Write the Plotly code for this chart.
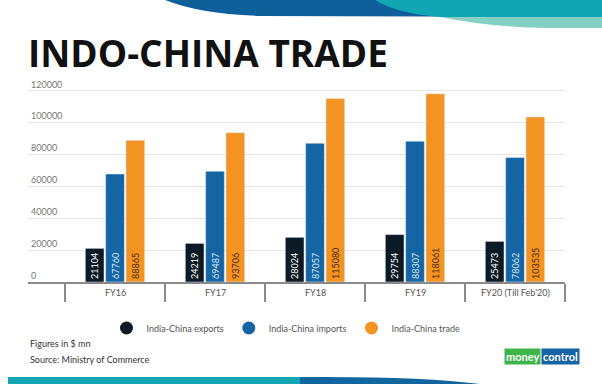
import plotly.graph_objects as go

categories = ["FY16", "FY17", "FY18", "FY19", "FY20 (Till Feb'20)"]
exports = [21104, 24219, 28024, 29754, 25473]
imports = [67760, 69487, 87057, 88307, 78062]
trade = [88865, 93706, 115080, 118061, 103535]
series_names = ["India-China exports", "India-China imports", "India-China trade"]
series_colors = ["#0c1a26", "#1565a5", "#f39322"]
text_colors = ["#ffffff", "#d6e8f5", "#4a2a05"]
y_ticks = [0, 20000, 40000, 60000, 80000, 100000, 120000]

W, H = 602, 384
L, R, T, B = 28, 37, 78, 102
pw, ph = W - L - R, H - T - B
Y_MAX = 128000


def px(x, y):
    return (x - L) / pw, (H - B - y) / ph


def path(pts):
    s = ""
    for cmd, coords in pts:
        s += cmd
        for i in range(0, len(coords), 2):
            xx, yy = px(coords[i], coords[i + 1])
            s += f"{xx:.4f},{yy:.4f} "
    return s + "Z"


fig = go.Figure()
for name, vals, col, tcol in zip(series_names, [exports, imports, trade], series_colors, text_colors):
    fig.add_trace(go.Bar(
        x=categories, y=vals, name=name, marker_color=col, showlegend=False,
        texttemplate="%{y:d}", textposition="inside", insidetextanchor="start",
        textangle=-90, textfont=dict(size=9, color=tcol, family="Lato"),
        cliponaxis=False,
    ))
    fig.add_trace(go.Scatter(
        x=[None], y=[None], mode="markers", name=name,
        marker=dict(color=col, size=13, symbol="circle"), showlegend=True,
    ))

x0, y0 = px(8, 377)
x1, y1 = px(330, 384)
shapes = [
    dict(type="path", xref="paper", yref="paper", line_width=0, fillcolor="#0f5f9b", layer="below",
         path=path([("M", [165, 0]), ("Q", [200, 14, 260, 16]), ("L", [602, 17]), ("L", [602, 0])])),
    dict(type="path", xref="paper", yref="paper", line_width=0, fillcolor="#12a6b4", layer="below",
         path=path([("M", [375, 0]), ("Q", [395, 13, 440, 17]), ("L", [602, 17]), ("L", [602, 0])])),
    dict(type="path", xref="paper", yref="paper", line_width=0, fillcolor="#84d0c3", layer="below",
         path=path([("M", [440, 17]), ("Q", [490, 27, 545, 28]), ("L", [602, 28]), ("L", [602, 17])])),
    dict(type="rect", xref="paper", yref="paper", line_width=0, fillcolor="#12a6b4", layer="below",
         x0=x0, y0=y0, x1=x1, y1=y1),
    dict(type="path", xref="paper", yref="paper", line_width=0, fillcolor="#1266a0", layer="below",
         path=path([("M", [300, 377]), ("Q", [420, 376, 480, 384]), ("L", [300, 384])])),
]

annotations = [
    dict(text="<b>INDO-CHINA TRADE</b>", xref="paper", yref="paper", x=px(26, 0)[0], y=px(0, 52)[1],
         xanchor="left", yanchor="middle", showarrow=False,
         font=dict(size=37, color="#111111", family="Open Sans")),
    dict(text="Figures in $ mn", xref="paper", yref="paper", x=px(28, 0)[0], y=px(0, 343)[1],
         xanchor="left", yanchor="middle", showarrow=False,
         font=dict(size=9, color="#333333", family="Lato")),
    dict(text="Source: Ministry of Commerce", xref="paper", yref="paper", x=px(28, 0)[0], y=px(0, 359)[1],
         xanchor="left", yanchor="middle", showarrow=False,
         font=dict(size=9, color="#333333", family="Lato")),
    dict(text="<b>money</b>", xref="paper", yref="paper", x=px(541, 0)[0], y=px(0, 356)[1],
         xanchor="right", yanchor="middle", showarrow=False, bgcolor="#3db54a", borderpad=1,
         font=dict(size=11, color="#ffffff", family="Lato")),
    dict(text="<b>control</b>", xref="paper", yref="paper", x=px(541, 0)[0], y=px(0, 356)[1],
         xanchor="left", yanchor="middle", showarrow=False, bgcolor="#1862a6", borderpad=1,
         font=dict(size=11, color="#ffffff", family="Lato")),
]
for c in categories:
    annotations.append(dict(text=c, xref="x", yref="paper", x=c, y=0, yshift=-10,
                            xanchor="center", yanchor="middle", showarrow=False,
                            font=dict(size=9, color="#555555", family="Lato")))

fig.update_layout(
    width=W, height=H, margin=dict(l=L, r=R, t=T, b=B),
    paper_bgcolor="#ffffff", plot_bgcolor="#ffffff",
    barmode="group", bargap=0.39, bargroupgap=0.08,
    shapes=shapes, annotations=annotations,
    legend=dict(orientation="h", x=px(286, 0)[0], y=px(0, 328)[1], xanchor="center", yanchor="middle",
                font=dict(size=9, color="#555555", family="Lato"), itemwidth=30),
    xaxis=dict(range=[-0.87, 4.5], showticklabels=False, ticks="outside", tickson="boundaries",
               ticklen=18, tickwidth=2, tickcolor="#8a8a8a", showline=True, linecolor="#8a8a8a",
               linewidth=2, showgrid=False, fixedrange=True),
    yaxis=dict(range=[0, Y_MAX], tickvals=y_ticks, tickformat="d", ticklabelposition="inside top",
               tickfont=dict(size=9, color="#777777", family="Lato"), showgrid=True,
               gridcolor="#e6e6e6", gridwidth=1, zeroline=False, ticks="", fixedrange=True),
    font=dict(family="Lato"),
)

fig.write_html("out.html")
